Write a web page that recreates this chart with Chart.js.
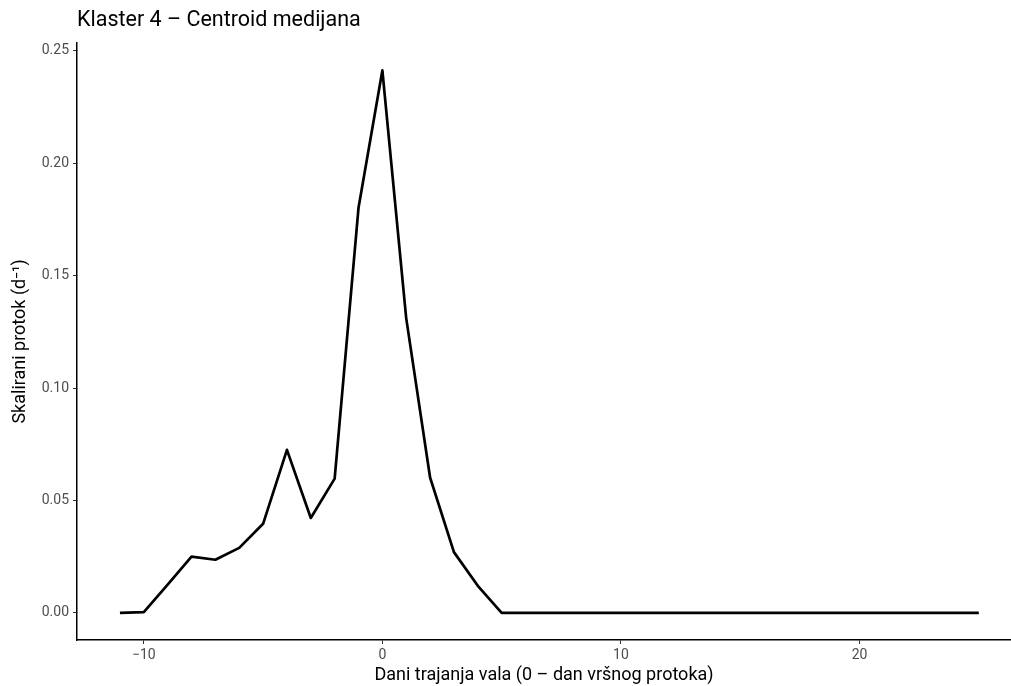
<!DOCTYPE html>
<html>
<head>
<meta charset="utf-8">
<script src="https://cdn.jsdelivr.net/npm/chart.js@4.4.1/dist/chart.umd.min.js"></script>
<style>
  html, body { margin: 0; padding: 0; background: #fff; }
  #wrap { width: 1011px; height: 686px; }
</style>
</head>
<body>
<div id="wrap"><canvas id="centroidChart" width="1011" height="686"></canvas></div>
<script>
// dani u odnosu na dan vršnog protoka
const days = [-11, -10, -9, -8, -7, -6, -5, -4, -3, -2, -1, 0, 1, 2, 3, 4, 5,
  6, 7, 8, 9, 10, 11, 12, 13, 14, 15, 16, 17, 18, 19, 20, 21, 22, 23, 24, 25];
// skalirani protok, medijan klastera 4
const flow = [0.0000, 0.0003, 0.0125, 0.0250, 0.0236, 0.0289, 0.0396, 0.0725, 0.0422, 0.0597,
  0.1802, 0.2413, 0.1310, 0.0602, 0.0270, 0.0120, 0.0000,
  0, 0, 0, 0, 0, 0, 0, 0, 0, 0, 0, 0, 0, 0, 0, 0, 0, 0, 0, 0];
const xTicks = [-10, 0, 10, 20];
const yTicks = [0, 0.05, 0.10, 0.15, 0.20, 0.25];

const FONT = 'Roboto, "Liberation Sans", Arial, sans-serif';
const points = days.map((d, i) => ({ x: d, y: flow[i] }));

const ctx = document.getElementById('centroidChart').getContext('2d');

new Chart(ctx, {
  type: 'line',
  data: {
    datasets: [{
      data: points,
      borderColor: '#000',
      borderWidth: 2.7,
      borderJoinStyle: 'round',
      borderCapStyle: 'butt',
      pointRadius: 0,
      tension: 0,
      fill: false
    }]
  },
  options: {
    responsive: false,
    animation: false,
    layout: { padding: { left: 0, right: 0, top: 0, bottom: 0 } },
    plugins: {
      legend: { display: false },
      tooltip: { enabled: false },
      title: {
        display: true,
        text: 'Klaster 4 \u2013 Centroid medijana',
        align: 'start',
        fullSize: false,
        color: '#000',
        font: { family: FONT, size: 21.5, weight: 'normal', lineHeight: 1.2 },
        padding: { top: 8, bottom: 9 }
      }
    },
    scales: {
      x: {
        type: 'linear',
        min: -12.8,
        max: 26.35,
        afterBuildTicks: s => { s.ticks = xTicks.map(v => ({ value: v })); },
        afterFit: s => { s.height = 46; },
        border: { display: true, color: '#000', width: 1.5 },
        grid: { drawOnChartArea: false, color: '#333', tickLength: 4 },
        ticks: {
          color: '#4d4d4d',
          font: { family: FONT, size: 14 },
          padding: 3,
          maxRotation: 0,
          callback: v => String(v).replace('-', '\u2212')
        },
        title: {
          display: true,
          text: 'Dani trajanja vala (0 \u2013 dan vršnog protoka)',
          color: '#000',
          font: { family: FONT, size: 18 },
          padding: { top: 0, bottom: 0 }
        }
      },
      y: {
        min: -0.0121,
        max: 0.2536,
        afterBuildTicks: s => { s.ticks = yTicks.map(v => ({ value: v })); },
        afterFit: s => { s.width = 77; },
        border: { display: true, color: '#000', width: 1.5 },
        grid: { drawOnChartArea: false, color: '#333', tickLength: 4 },
        ticks: {
          color: '#4d4d4d',
          font: { family: FONT, size: 14 },
          padding: 4,
          callback: v => v.toFixed(2)
        },
        title: {
          display: true,
          text: 'Skalirani protok (d\u207B\u00B9)',
          color: '#000',
          font: { family: FONT, size: 18 },
          padding: { top: 10, bottom: 0 }
        }
      }
    }
  }
});
</script>
</body>
</html>
